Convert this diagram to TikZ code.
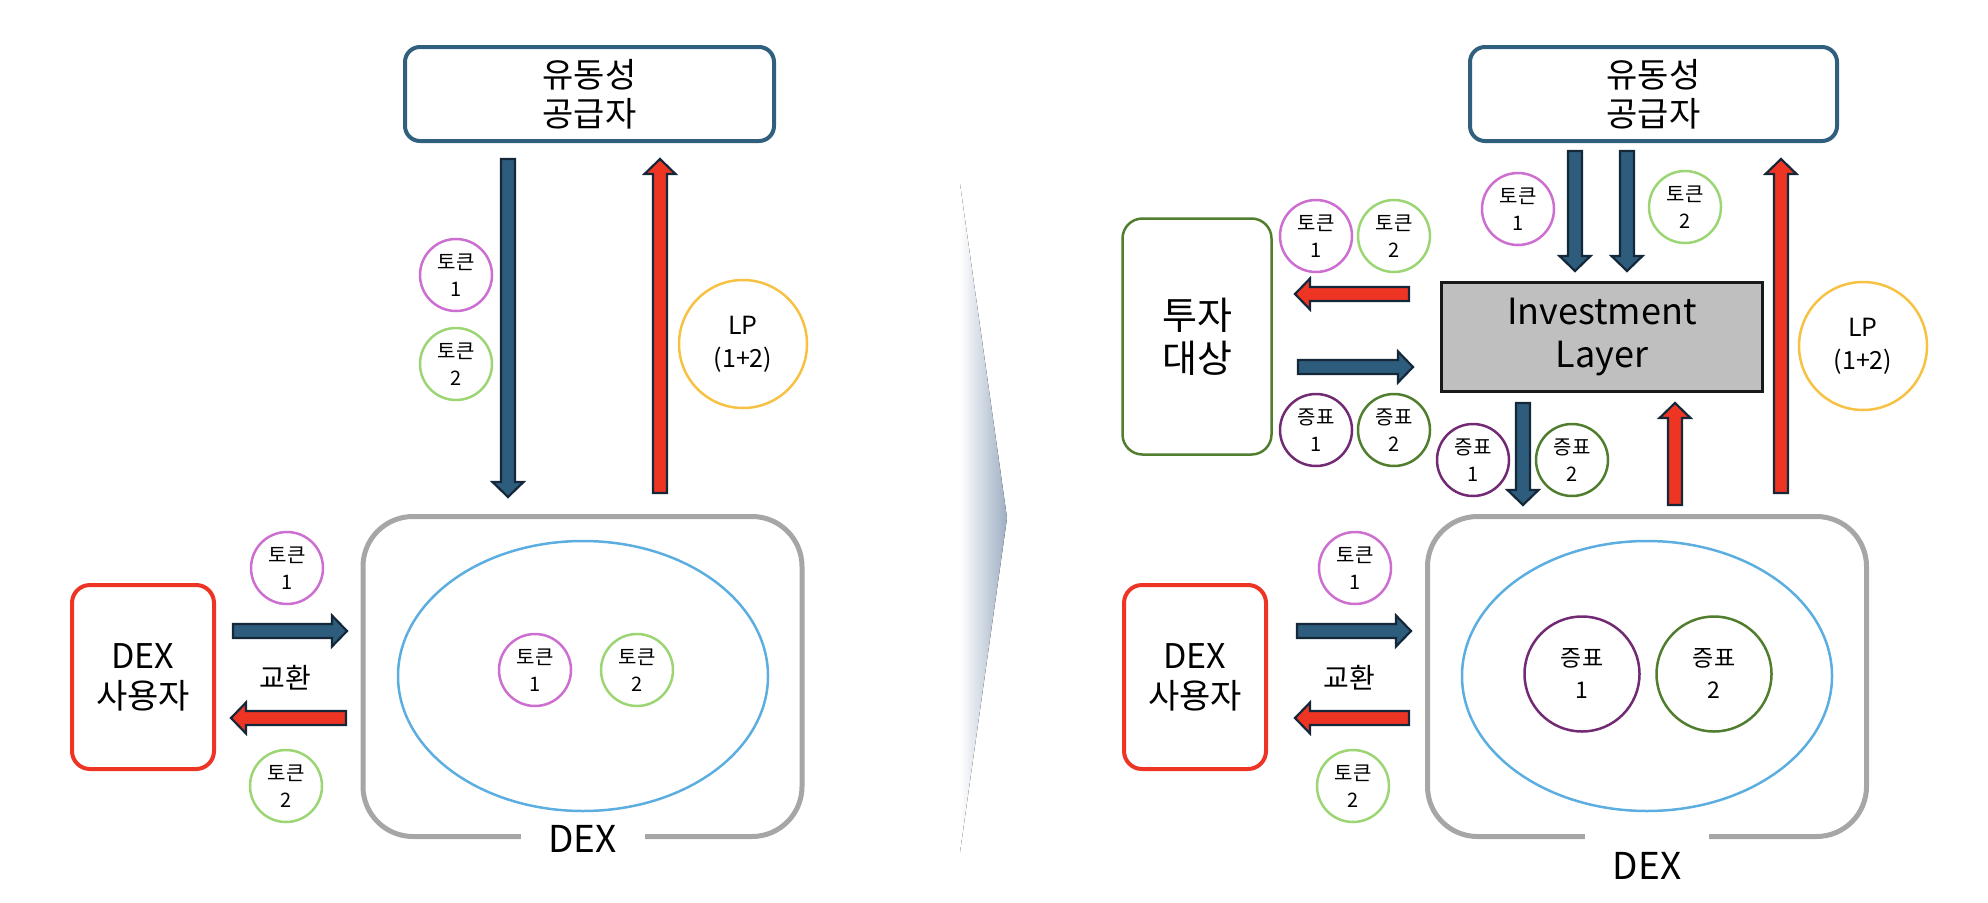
\documentclass[tikz,border=0pt]{standalone}
\usepackage{fontspec}
\setmainfont{Noto Sans CJK KR}
\usetikzlibrary{calc,shapes.geometric}
\definecolor{supplyblue}{HTML}{31607F}
\definecolor{arrowblue}{HTML}{2E5C7C}
\definecolor{arrowred}{HTML}{EE3524}
\definecolor{arrownavy}{HTML}{15283A}
\definecolor{usered}{HTML}{EE3424}
\definecolor{dexgray}{HTML}{A6A6A6}
\definecolor{poolblue}{HTML}{5DAEE0}
\definecolor{coinpink}{HTML}{CC6FD0}
\definecolor{coingreen}{HTML}{9BD574}
\definecolor{lpyellow}{HTML}{F7C244}
\definecolor{receiptpurple}{HTML}{722A74}
\definecolor{receiptgreen}{HTML}{507E2E}
\definecolor{layergray}{HTML}{BFBFBF}
\definecolor{sepgray}{HTML}{9DAEC3}
\newcommand{\fs}[2]{\fontsize{#1}{#2}\selectfont}
% block arrow: fill colour, tail, tip
\newcommand{\blockarrow}[3]{%
  \coordinate (ahead) at ($(#3)!15pt!(#2)$);
  \draw[arrowedge, fill=#1] ($(#2)!7pt!90:(#3)$) -- ($(ahead)!7pt!90:(#3)$)
    -- ($(ahead)!15.5pt!90:(#3)$) -- (#3) -- ($(ahead)!15.5pt!-90:(#3)$)
    -- ($(ahead)!7pt!-90:(#3)$) -- ($(#2)!7pt!-90:(#3)$) -- cycle;}

\begin{document}
\begin{tikzpicture}[x=1pt, y=-1pt,
  supplybox/.style={draw=supplyblue, line width=4pt, rounded corners=15pt, minimum width=369pt, minimum height=94pt, align=center, font=\fs{34}{39}},
  dexbox/.style={draw=dexgray, line width=5pt, rounded corners=50pt, minimum width=439pt, minimum height=320pt},
  pool/.style={ellipse, draw=poolblue, line width=2.5pt, minimum width=370pt, minimum height=270pt},
  userbox/.style={draw=usered, line width=4pt, rounded corners=18pt, minimum width=142pt, minimum height=184pt, align=center, font=\fs{34}{40}},
  targetbox/.style={draw=receiptgreen, line width=2.5pt, rounded corners=20pt, minimum width=149pt, minimum height=236pt, align=center, font=\fs{38}{43}},
  layerbox/.style={draw=black!90, fill=layergray, line width=3pt, minimum width=321pt, minimum height=109pt, align=center, font=\fs{36}{43}},
  coin/.style={circle, line width=2.5pt, inner sep=0pt, minimum size=72pt, align=center, font=\fs{20}{27}},
  coinone/.style={coin, draw=coinpink},
  cointwo/.style={coin, draw=coingreen},
  receiptone/.style={coin, draw=receiptpurple},
  receipttwo/.style={coin, draw=receiptgreen},
  bigreceipt/.style={minimum size=115pt, font=\fs{23}{32}},
  lpcoin/.style={coin, draw=lpyellow, minimum size=128pt, font=\fs{25}{33}},
  swaplabel/.style={font=\fs{28}{32}},
  dexlabel/.style={fill=white, inner sep=0pt, minimum width=124pt, font=\fs{37}{40}},
  arrowedge/.style={draw=arrownavy, line width=2.2pt, line join=miter}]
\useasboundingbox (0,0) rectangle (1988,902);

% separator
\fill[left color=white, right color=sepgray] (960,184) -- (1007,518) -- (960,852) -- cycle;

% before
\node[supplybox] (supply1) at (589.5,94) {유동성\\공급자};
\node[dexbox] (dex1) at (582.5,676.5) {};
\node[pool] (pool1) at (583,676) {};
\node[userbox] (user1) at (143,677) {DEX\\사용자};
\node[coinone] (give1) at (456,275) {토큰\\1};
\node[cointwo] (give2) at (456,364) {토큰\\2};
\node[lpcoin] (lp1) at (743,344) {LP\\(1+2)};
\node[coinone] (pooltok1) at (535,670) {토큰\\1};
\node[cointwo] (pooltok2) at (637,670) {토큰\\2};
\node[coinone] (swapin1) at (287,568) {토큰\\1};
\node[cointwo] (swapout1) at (286,786) {토큰\\2};
\node[swaplabel] (swap1) at (285,678) {교환};
\node[dexlabel] (dexname1) at (dex1.south) {DEX};

\coordinate (d1s) at (508,159); \coordinate (d1e) at (508,497);
\coordinate (u1s) at (660,493); \coordinate (u1e) at (660,159);
\coordinate (r1s) at (233,631); \coordinate (r1e) at (347,631);
\coordinate (l1s) at (346,718); \coordinate (l1e) at (231,718);
\blockarrow{arrowblue}{d1s}{d1e}
\blockarrow{arrowred}{u1s}{u1e}
\blockarrow{arrowblue}{r1s}{r1e}
\blockarrow{arrowred}{l1s}{l1e}

% after
\node[supplybox, minimum width=367pt] (supply2) at (1653.5,94) {유동성\\공급자};
\node[targetbox] (target) at (1197,336.5) {투자\\대상};
\node[layerbox] (layer) at (1602,337) {Investment\\Layer};
\node[dexbox] (dex2) at (1647,676.5) {};
\node[pool] (pool2) at (1647,676) {};
\node[userbox] (user2) at (1195,677) {DEX\\사용자};
\node[coinone] (give3) at (1518,209) {토큰\\1};
\node[cointwo] (give4) at (1685,207) {토큰\\2};
\node[lpcoin] (lp2) at (1863,346) {LP\\(1+2)};
\node[coinone] (invtok1) at (1316,236) {토큰\\1};
\node[cointwo] (invtok2) at (1394,236) {토큰\\2};
\node[receiptone] (invrec1) at (1316,430) {증표\\1};
\node[receipttwo] (invrec2) at (1394,430) {증표\\2};
\node[receiptone] (layrec1) at (1473,460) {증표\\1};
\node[receipttwo] (layrec2) at (1572,460) {증표\\2};
\node[receiptone, bigreceipt] (poolrec1) at (1582,674) {증표\\1};
\node[receipttwo, bigreceipt] (poolrec2) at (1714,674) {증표\\2};
\node[coinone] (swapin2) at (1355,568) {토큰\\1};
\node[cointwo] (swapout2) at (1353,786) {토큰\\2};
\node[swaplabel] (swap2) at (1349,678) {교환};
\node[dexlabel, anchor=north, minimum height=72pt] (dexname2) at ([yshift=9pt]dex2.south) {DEX};

\coordinate (d2s) at (1575,151); \coordinate (d2e) at (1575,271);
\coordinate (d3s) at (1627,151); \coordinate (d3e) at (1627,271);
\coordinate (u2s) at (1781,493); \coordinate (u2e) at (1781,159);
\coordinate (l2s) at (1409,294); \coordinate (l2e) at (1295,294);
\coordinate (r2s) at (1298,367); \coordinate (r2e) at (1413,367);
\coordinate (d4s) at (1523,403); \coordinate (d4e) at (1523,505);
\coordinate (u3s) at (1675,505); \coordinate (u3e) at (1675,403);
\coordinate (r3s) at (1297,631); \coordinate (r3e) at (1411,631);
\coordinate (l3s) at (1409,718); \coordinate (l3e) at (1295,718);
\blockarrow{arrowblue}{d2s}{d2e}
\blockarrow{arrowblue}{d3s}{d3e}
\blockarrow{arrowred}{u2s}{u2e}
\blockarrow{arrowred}{l2s}{l2e}
\blockarrow{arrowblue}{r2s}{r2e}
\blockarrow{arrowblue}{d4s}{d4e}
\blockarrow{arrowred}{u3s}{u3e}
\blockarrow{arrowblue}{r3s}{r3e}
\blockarrow{arrowred}{l3s}{l3e}
\end{tikzpicture}
\end{document}
